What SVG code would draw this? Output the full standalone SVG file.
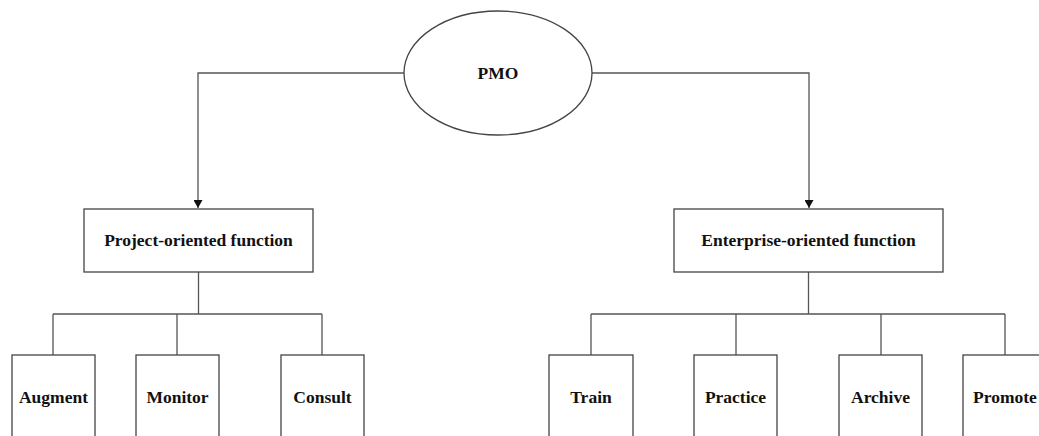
<svg xmlns="http://www.w3.org/2000/svg" width="1039" height="436" viewBox="0 0 1039 436">
  <defs>
    <marker id="arrow" viewBox="0 0 8 9" refX="8" refY="4.5" markerWidth="8" markerHeight="9" markerUnits="userSpaceOnUse" orient="auto">
      <path d="M0,0 L8,4.5 L0,9 Z" fill="#111"/>
    </marker>
  </defs>
  <style>
    .shape { fill: #fff; stroke: #444; stroke-width: 1.3; }
    .link { fill: none; stroke: #555; stroke-width: 1.3; }
    .label { font-family: "Liberation Serif", "Times New Roman", serif; font-weight: bold; font-size: 17.5px; fill: #111; text-anchor: middle; }
  </style>
  <rect width="1039" height="436" fill="#fff"/>

  <g id="connectors">
    <!-- root to the two function boxes -->
    <path class="link" d="M404,73 H198 V208" marker-end="url(#arrow)"/>
    <path class="link" d="M592,73 H809 V208" marker-end="url(#arrow)"/>
    <!-- project-oriented branch -->
    <path class="link" d="M198.5,272 V314 M53,314 H322 M53,314 V355 M177,314 V355 M322,314 V355"/>
    <!-- enterprise-oriented branch -->
    <path class="link" d="M808.5,272 V314 M591,314 H1005 M591,314 V355 M736,314 V355 M881,314 V355 M1005,314 V355"/>
  </g>

  <g id="pmo">
    <ellipse class="shape" cx="498" cy="73" rx="94" ry="62"/>
    <text class="label" x="498" y="79">PMO</text>
  </g>

  <g id="project-oriented">
    <rect class="shape" x="84" y="209" width="229" height="63"/>
    <text class="label" x="198.5" y="246">Project-oriented function</text>
  </g>

  <g id="enterprise-oriented">
    <rect class="shape" x="674" y="209" width="269" height="63"/>
    <text class="label" x="808.5" y="246">Enterprise-oriented function</text>
  </g>

  <g id="augment">
    <rect class="shape" x="12" y="355" width="83" height="100"/>
    <text class="label" x="53.5" y="403">Augment</text>
  </g>
  <g id="monitor">
    <rect class="shape" x="136" y="355" width="83" height="100"/>
    <text class="label" x="177.5" y="403">Monitor</text>
  </g>
  <g id="consult">
    <rect class="shape" x="281" y="355" width="83" height="100"/>
    <text class="label" x="322.5" y="403">Consult</text>
  </g>

  <g id="train">
    <rect class="shape" x="549" y="355" width="84" height="100"/>
    <text class="label" x="591" y="403">Train</text>
  </g>
  <g id="practice">
    <rect class="shape" x="694" y="355" width="83" height="100"/>
    <text class="label" x="735.5" y="403">Practice</text>
  </g>
  <g id="archive">
    <rect class="shape" x="839" y="355" width="83" height="100"/>
    <text class="label" x="880.5" y="403">Archive</text>
  </g>
  <g id="promote">
    <rect class="shape" x="963" y="355" width="84" height="100"/>
    <text class="label" x="1005" y="403">Promote</text>
  </g>
</svg>
